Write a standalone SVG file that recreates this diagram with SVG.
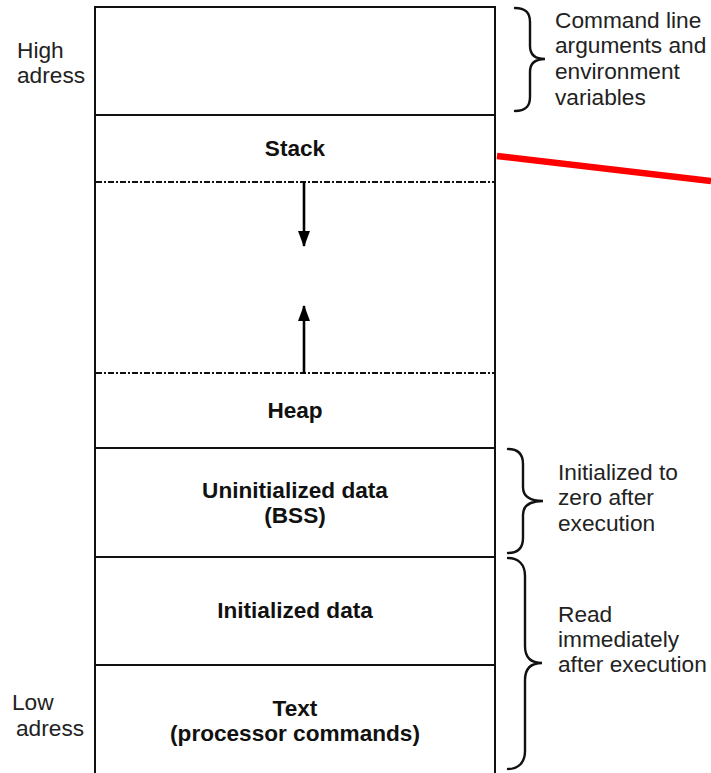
<svg xmlns="http://www.w3.org/2000/svg" width="711" height="773" viewBox="0 0 711 773">
  <style>
    .frame { fill: none; stroke: #111; stroke-width: 2; }
    .dash { fill: none; stroke: #111; stroke-width: 2; stroke-dasharray: 6 2 2 2; }
    .brace { fill: none; stroke: #111; stroke-width: 2.4; stroke-linecap: round; }
    .lbl { font-family: "Liberation Sans", Arial, sans-serif; font-size: 22.7px; fill: #222; }
    .seg { font-family: "Liberation Sans", Arial, sans-serif; font-size: 22.6px; font-weight: bold; fill: #111; text-anchor: middle; }
    .arrow { fill: none; stroke: #000; stroke-width: 2.6; }
  </style>
  <defs>
    <marker id="head" viewBox="0 0 16 14" refX="15" refY="7" markerWidth="16" markerHeight="14" markerUnits="userSpaceOnUse" orient="auto">
      <path d="M0,1 L16,7 L0,13 Z" fill="#000"/>
    </marker>
  </defs>
  <rect width="711" height="773" fill="#fff"/>

  <!-- memory column: outline and segment borders -->
  <g id="frame">
    <path class="frame" d="M95,776 L95,7 L495,7 L495,776"/>
    <line class="frame" x1="95" y1="115" x2="495" y2="115"/>
    <line class="frame" x1="95" y1="448" x2="495" y2="448"/>
    <line class="frame" x1="95" y1="557" x2="495" y2="557"/>
    <line class="frame" x1="95" y1="665" x2="495" y2="665"/>
    <line class="dash" x1="96" y1="182" x2="494" y2="182"/>
    <line class="dash" x1="96" y1="373" x2="494" y2="373"/>
  </g>

  <g id="args"></g>
  <g id="stack"><text class="seg" x="295" y="156">Stack</text></g>
  <g id="free"></g>
  <g id="heap"><text class="seg" x="295" y="418">Heap</text></g>
  <g id="bss">
    <text class="seg" x="295" y="498">Uninitialized data</text>
    <text class="seg" x="295" y="523">(BSS)</text>
  </g>
  <g id="data"><text class="seg" x="295" y="618">Initialized data</text></g>
  <g id="text-seg">
    <text class="seg" x="295" y="716">Text</text>
    <text class="seg" x="295" y="741">(processor commands)</text>
  </g>

  <!-- address labels -->
  <g id="high-address">
    <text class="lbl" x="17" y="58">High</text>
    <text class="lbl" x="17" y="83">adress</text>
  </g>
  <g id="low-address">
    <text class="lbl" x="12" y="710">Low</text>
    <text class="lbl" x="16" y="736">adress</text>
  </g>

  <!-- side notes with braces -->
  <g id="note-args">
    <path class="brace" d="M515,8 C525,8 530,12 530,22 L530,46 C530,55 535,59 545,59 C535,59 530,63 530,72 L530,97 C530,107 525,111 515,111"/>
    <text class="lbl" x="555" y="28">Command line</text>
    <text class="lbl" x="555" y="53">arguments and</text>
    <text class="lbl" x="555" y="79">environment</text>
    <text class="lbl" x="555" y="105">variables</text>
  </g>
  <g id="note-bss">
    <path class="brace" d="M508,449 C518,449 523,454 523,464 L523,487 C523,496 530,501 543,501 C530,501 523,506 523,515 L523,538 C523,548 518,553 508,553"/>
    <text class="lbl" x="558" y="480">Initialized to</text>
    <text class="lbl" x="558" y="505">zero after</text>
    <text class="lbl" x="558" y="531">execution</text>
  </g>
  <g id="note-data">
    <path class="brace" d="M508,558 C518,558 525,564 525,576 L525,646 C525,657 531,663 542,663 C531,663 525,669 525,680 L525,751 C525,763 518,769 508,769"/>
    <text class="lbl" x="558" y="622">Read</text>
    <text class="lbl" x="558" y="647">immediately</text>
    <text class="lbl" x="558" y="672">after execution</text>
  </g>

  <!-- growth arrows and pointer -->
  <g id="connectors">
    <line class="arrow" x1="304" y1="182" x2="304" y2="246" marker-end="url(#head)"/>
    <line class="arrow" x1="304" y1="373" x2="304" y2="306" marker-end="url(#head)"/>
    <line x1="497" y1="156" x2="711" y2="181" stroke="#ff0000" stroke-width="6.5"/>
  </g>
</svg>
